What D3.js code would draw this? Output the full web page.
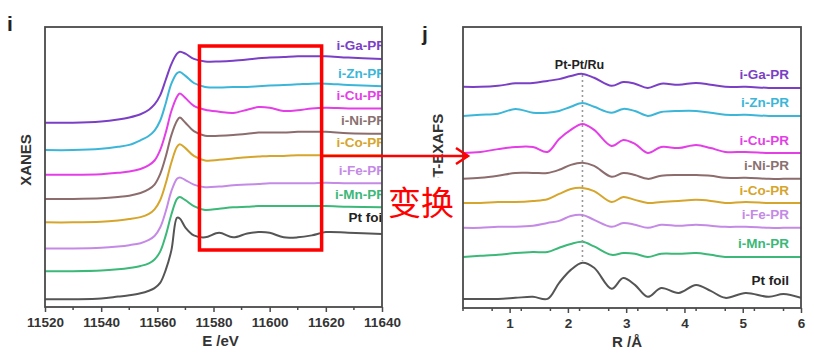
<!DOCTYPE html>
<html><head><meta charset="utf-8">
<script src="https://cdn.jsdelivr.net/npm/d3@7"></script>
<style>
html,body{margin:0;padding:0;background:#fff;}
svg{display:block;font-family:"Liberation Sans",Arial,sans-serif;}
</style></head>
<body><svg id="c" width="814" height="360"></svg>
<script>
// ---------- data ----------
const seriesNames = ["i-Ga-PR","i-Zn-PR","i-Cu-PR","i-Ni-PR","i-Co-PR","i-Fe-PR","i-Mn-PR","Pt foil"];
const seriesColors = ["#7b3fc6","#3cb6d8","#e43fe6","#8c6c6c","#d6a52c","#c48ae6","#3cb878","#555555"];
const labelColors = ["#7b3fc6","#3cb6d8","#e43fe6","#8a7070","#d6a52c","#c48ae6","#3cb878","#222222"];

// XANES (left)
const energy = [11520,11530,11540,11546,11550,11554,11557,11559,11561,11563,11565,11567,11568,11570,11573,11577,11582,11587,11592,11596,11600,11605,11610,11615,11620,11628,11640];
const xanesOffsets = [2.71,2.29,1.91,1.54,1.18,0.78,0.43,0];
const xanesGa = [0,0,0.02,0.05,0.08,0.13,0.2,0.28,0.42,0.66,0.9,1.06,1.09,1.06,0.98,0.94,0.94,0.95,0.97,0.99,1.0,1.01,1.02,1.02,1.02,1.0,0.98];
const xanesZn = [0,0,0.02,0.05,0.08,0.15,0.22,0.3,0.45,0.72,1.02,1.18,1.2,1.14,1.03,0.97,0.96,0.97,0.97,0.98,0.99,1.0,1.01,1.02,1.02,1.0,0.98];
const xanesCu = [0,0,0.01,0.03,0.05,0.09,0.15,0.22,0.38,0.65,0.98,1.2,1.25,1.18,1.06,1.0,0.97,0.95,1.0,1.04,1.03,0.98,0.99,1.02,1.03,1.02,1.02];
const xanesNi = [0,0,0.01,0.03,0.05,0.09,0.15,0.22,0.38,0.65,0.98,1.2,1.25,1.17,1.04,0.97,0.97,0.98,1.0,1.02,1.02,1.02,1.03,1.03,1.03,1.01,1.0];
const xanesCo = [0,0,0.01,0.03,0.05,0.08,0.13,0.2,0.34,0.6,0.92,1.16,1.2,1.14,1.02,0.95,0.96,0.98,1.0,1.01,1.02,1.02,1.03,1.03,1.03,1.03,1.03];
const xanesFe = [0,0,0.01,0.03,0.05,0.08,0.13,0.19,0.32,0.57,0.88,1.07,1.09,1.05,0.98,0.94,0.95,0.97,0.98,0.99,1.0,1.0,1.0,1.0,1.01,1.0,1.0];
const xanesMn = [0,0,0.01,0.03,0.05,0.08,0.12,0.18,0.3,0.55,0.87,1.11,1.14,1.09,1.0,0.94,0.96,0.98,0.99,1.0,1.0,1.0,1.0,1.0,1.0,0.99,0.98];
const xanesPt = [0,0,0.01,0.04,0.06,0.09,0.13,0.17,0.25,0.45,0.75,1.25,1.24,1.1,0.98,0.95,1.02,0.95,1.01,1.03,1.02,0.95,0.95,0.98,1.03,1.02,1.0];
const xanesData = [xanesGa,xanesZn,xanesCu,xanesNi,xanesCo,xanesFe,xanesMn,xanesPt];
const energyTicks = [11520,11540,11560,11580,11600,11620,11640];

// FT-EXAFS (right)
const radius = [0.2,0.5,0.8,1.1,1.4,1.65,1.85,2.05,2.25,2.45,2.75,2.95,3.15,3.37,3.6,3.9,4.2,4.45,4.7,5.05,5.45,5.7,6.0];
const exafsOffsets = [6.06,5.23,4.17,3.43,2.74,2.03,1.2,0];
const ftGa = [0,0,0.03,0.1,0.11,0.17,0.22,0.31,0.37,0.26,0.03,0.14,0.09,-0.03,0.09,0.06,0.11,0.06,0,0,-0.03,-0.03,-0.03];
const ftZn = [0,0.03,0.06,0.2,0.09,0.09,0.14,0.26,0.37,0.26,0.09,0.2,0.14,0,0.11,0.14,0.14,0.09,0.03,0.03,0,0,0];
const ftCu = [0,0.03,0.11,0.17,0.17,0.03,0.4,0.66,0.83,0.66,0.2,0.37,0.26,0,0.17,0.14,0.23,0.14,0.03,0.03,0,0,0];
const ftNi = [0,0.03,0.09,0.17,0.17,0.17,0.26,0.4,0.46,0.37,0.06,0.17,0.11,0,0.09,0.11,0.11,0.09,0.03,0.03,0,0,0];
const ftCo = [0,0,0.03,0.03,0.06,0.11,0.26,0.4,0.43,0.34,0.03,0.17,0.09,0,0.03,0.06,0.09,0.06,0,0.03,0,0,0];
const ftFe = [0,0,0.03,0.03,0.06,0.14,0.2,0.34,0.37,0.23,0.03,0.14,0.09,0,0.09,0.06,0.09,0.06,0.03,0.03,0,0,0];
const ftMn = [0,0.03,0.06,0.11,0.14,0.14,0.26,0.37,0.43,0.3,0.06,0.11,0.09,0,0.09,0.09,0.11,0.06,0,0,0,0,0];
const ftPt = [0,0,0,0.03,0.06,0,0.46,0.83,1.03,0.89,0.29,0.6,0.4,0.06,0.31,0.17,0.4,0.23,0.03,0.17,0.06,0.14,0.03];
const exafsData = [ftGa,ftZn,ftCu,ftNi,ftCo,ftFe,ftMn,ftPt];
const radiusTicks = [1,2,3,4,5,6];
const peakR = 2.25;

// ---------- drawing ----------
const svg = d3.select("#c");
const frameColor = "#4a4a4a";

function panel(opts){
  const {x0,x1,y0,y1,xDomain,yDomain,xs,data,offsets,ticks,minorStep,tickFmt,xlabel,ylabel,ylabelX,ylabelY,labelRight,id,clip} = opts;
  const x = d3.scaleLinear().domain(xDomain).range([x0,x1]);
  const y = d3.scaleLinear().domain(yDomain).range([y1,y0]);
  const g = svg.append("g");
  g.append("clipPath").attr("id",id).append("rect").attr("x",x0).attr("y",y0).attr("width",x1-x0).attr("height",y1-y0);
  const line = d3.line().x((d,i)=>x(xs[i])).y(d=>d).curve(d3.curveCatmullRom.alpha(0.5));
  data.forEach((vals,k)=>{
    const ys = vals.map(v=>y(v+offsets[k]));
    g.append("path").attr("d",line(ys)).attr("fill","none")
      .attr("stroke",seriesColors[k]).attr("stroke-width",2).attr("stroke-linejoin","round").attr("clip-path",`url(#${id})`);
    const endY = y(vals[vals.length-1]+offsets[k]);
    g.append("text").attr("x",labelRight).attr("y",endY-(k===7?16:12)).attr("text-anchor","end")
      .attr("dominant-baseline","middle").attr("font-size",13.5).attr("font-weight","bold")
      .attr("fill",labelColors[k]).attr("clip-path",clip?`url(#${id})`:null).text(seriesNames[k]);
  });
  // axis
  const minor = d3.range(xDomain[0], xDomain[1]+1e-9, minorStep).filter(v=>!ticks.some(t=>Math.abs(t-v)<1e-6));
  const ax = g.append("g").attr("transform",`translate(0,${y1})`);
  ax.call(d3.axisBottom(x).tickValues(ticks).tickFormat(tickFmt).tickSize(5).tickPadding(5))
  ax.select(".domain").remove();
  ax.selectAll(".tick line").attr("stroke",frameColor).attr("stroke-width",1.5);
  ax.selectAll(".tick text").attr("font-size",13.5).attr("font-weight","bold").attr("fill","#333")
    .attr("font-family","'Liberation Sans',Arial,sans-serif");
  ax.selectAll(".minor").data(minor).enter().append("line").attr("x1",d=>x(d)).attr("x2",d=>x(d))
    .attr("y1",0).attr("y2",3).attr("stroke",frameColor).attr("stroke-width",1.5);
  g.append("rect").attr("x",x0).attr("y",y0).attr("width",x1-x0).attr("height",y1-y0)
    .attr("fill","none").attr("stroke",frameColor).attr("stroke-width",1.8);
  g.append("text").attr("x",(x0+x1)/2+opts.xlabelDx).attr("y",y1+39).attr("text-anchor","middle")
    .attr("font-size",15).attr("font-weight","bold").attr("fill","#333").text(xlabel);
  g.append("text").attr("transform",`translate(${ylabelX},${ylabelY}) rotate(-90)`).attr("text-anchor","middle")
    .attr("dominant-baseline","middle").attr("font-size",15).attr("font-weight","bold").attr("fill","#333").text(ylabel);
  return {x,y,g};
}

const L = panel({x0:45,x1:382,y0:27,y1:307,xDomain:[11520,11640],yDomain:[-0.12,4.18],xs:energy,data:xanesData,
  offsets:xanesOffsets,ticks:energyTicks,minorStep:10,tickFmt:d3.format("d"),xlabel:"E /eV",xlabelDx:7,ylabel:"XANES",
  ylabelX:27,ylabelY:160,labelRight:386,id:"clipL",clip:true});

const R = panel({x0:463,x1:801,y0:27,y1:308,xDomain:[0.2,6],yDomain:[-0.26,7.77],xs:radius,data:exafsData,
  offsets:exafsOffsets,ticks:radiusTicks,minorStep:0.5,tickFmt:d3.format("d"),xlabel:"R /Å",xlabelDx:-5,ylabel:"FT-EXAFS",
  ylabelX:439,ylabelY:150,labelRight:789,id:"clipR",clip:false});

// dotted reference line at Pt-Pt/Ru peak
svg.append("line").attr("x1",R.x(peakR)).attr("x2",R.x(peakR)).attr("y1",75).attr("y2",R.y(ftPt[8]+exafsOffsets[7])-2)
  .attr("stroke","#999").attr("stroke-width",1.6).attr("stroke-dasharray","2,3");
svg.append("text").attr("x",R.x(peakR)-3).attr("y",66).attr("text-anchor","middle").attr("dominant-baseline","middle")
  .attr("font-size",12.5).attr("font-weight","bold").attr("fill","#222").text("Pt-Pt/Ru");

// panel letters
svg.append("text").attr("x",7).attr("y",31).attr("font-size",21).attr("font-weight","bold").attr("fill","#222").text("i");
svg.append("text").attr("x",422).attr("y",41).attr("font-size",21).attr("font-weight","bold").attr("fill","#222").text("j");

// red highlight box and arrow
svg.append("rect").attr("x",L.x(11575)).attr("y",46).attr("width",L.x(11618.5)-L.x(11575)).attr("height",204)
  .attr("fill","none").attr("stroke","#ff0000").attr("stroke-width",3.5);
svg.append("line").attr("x1",L.x(11618.5)).attr("x2",468).attr("y1",156).attr("y2",156).attr("stroke","#ff0000").attr("stroke-width",2.5);
svg.append("path").attr("d","M456,148 L468,156 L456,164").attr("fill","none").attr("stroke","#ff0000").attr("stroke-width",2.5);

// 变换 label (its white backing hides the start of the y-axis title, as in the source figure)
svg.append("rect").attr("x",386).attr("y",178).attr("width",70).attr("height",40).attr("fill","#fff");
svg.append("text").attr("x",421).attr("y",201).attr("text-anchor","middle").attr("dominant-baseline","central")
  .attr("font-size",33).attr("font-family","'Noto Sans CJK SC',sans-serif").attr("fill","#ff0000").text("变换");
</script></body></html>
